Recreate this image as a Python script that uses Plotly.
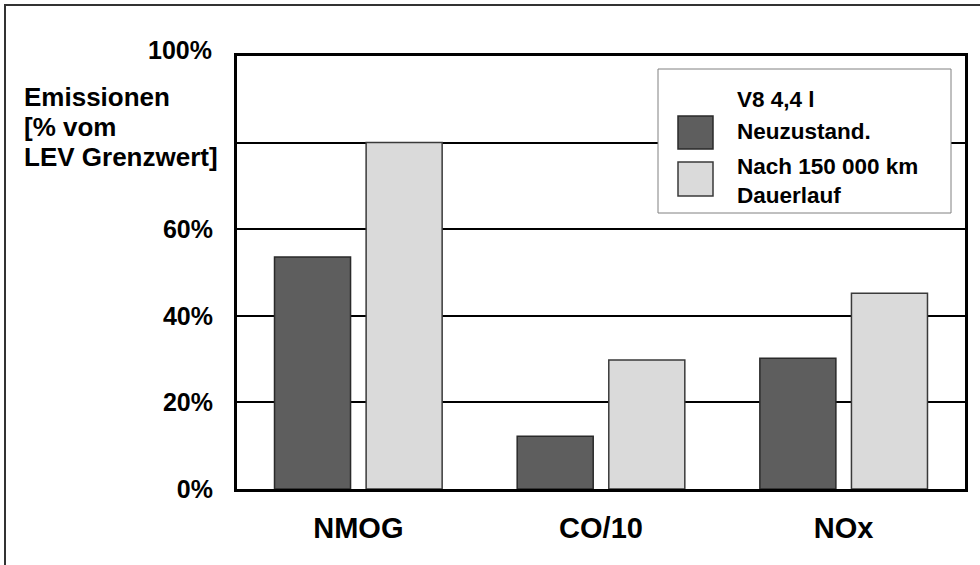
import plotly.graph_objects as go

categories = ["NMOG", "CO/10", "NOx"]
neu_values = [53.6, 12.2, 30.2]
dauer_values = [80.0, 29.8, 45.2]
tick_vals = [0, 20, 40, 60, 80, 100]
tick_text = ["0%", "20%", "40%", "60%", "", "100%"]
legend_title = "V8 4,4 l"
legend_labels = ["Neuzustand.", "Nach 150 000 km", "Dauerlauf"]
y_title_lines = ["Emissionen", "[% vom", "LEV Grenzwert]"]

W, H = 980, 565
L, R, T, B = 237, 15, 56, 76
PW, PH = W - L - R, H - T - B

def px(x):
    return (x - L) / PW

def py(y):
    return (H - B - y) / PH

FONT = "Liberation Sans, Arial, sans-serif"
DARK = "#5e5e5e"
LIGHT = "#dadada"

fig = go.Figure()
fig.add_trace(go.Bar(x=categories, y=neu_values, name=legend_labels[0],
                     marker=dict(color=DARK, line=dict(color="#2a2a2a", width=1.5))))
fig.add_trace(go.Bar(x=categories, y=dauer_values, name=legend_labels[1] + " " + legend_labels[2],
                     marker=dict(color=LIGHT, line=dict(color="#3a3a3a", width=1.5))))

# the top tick label sits slightly above its line in the original, so it is drawn as an annotation
axis_tick_text = [t if v != 100 else "" for v, t in zip(tick_vals, tick_text)]

fig.update_layout(
    width=W, height=H,
    margin=dict(l=L, r=R, t=T, b=B),
    paper_bgcolor="white", plot_bgcolor="white",
    barmode="group", bargap=0.245, bargroupgap=0.17,
    showlegend=False,
    font=dict(family=FONT, color="black", size=24, weight="bold"),
)
fig.update_xaxes(showline=True, linecolor="black", linewidth=3, mirror=True,
                 showgrid=False, ticks="", ticklabelstandoff=11,
                 tickfont=dict(size=29, family=FONT, weight="bold"))
fig.update_yaxes(range=[0, 100], tickvals=tick_vals, ticktext=axis_tick_text,
                 showline=True, linecolor="black", linewidth=3, mirror=True,
                 showgrid=True, gridcolor="black", gridwidth=2,
                 zeroline=False, ticks="", ticklabelstandoff=16,
                 tickfont=dict(size=25, family=FONT, weight="bold"))

fig.add_annotation(xref="paper", yref="y", x=px(214), y=100, yshift=6,
                   text=tick_text[tick_vals.index(100)], showarrow=False,
                   xanchor="right", yanchor="middle",
                   font=dict(size=25, family=FONT, color="black", weight="bold"))

shapes = []
# outer frame (top and left edges)
shapes.append(dict(type="line", xref="paper", yref="paper",
                   x0=px(4), x1=px(W), y0=py(5), y1=py(5),
                   line=dict(color="#333333", width=2)))
shapes.append(dict(type="line", xref="paper", yref="paper",
                   x0=px(5), x1=px(5), y0=py(4), y1=py(H),
                   line=dict(color="#333333", width=2)))
# legend box
shapes.append(dict(type="rect", xref="paper", yref="paper",
                   x0=px(658), x1=px(951), y0=py(213), y1=py(69),
                   fillcolor="white", line=dict(color="#808080", width=1), layer="above"))
shapes.append(dict(type="rect", xref="paper", yref="paper",
                   x0=px(678), x1=px(713), y0=py(149), y1=py(116),
                   fillcolor=DARK, line=dict(color="#2a2a2a", width=1.5), layer="above"))
shapes.append(dict(type="rect", xref="paper", yref="paper",
                   x0=px(678), x1=px(713), y0=py(196), y1=py(162),
                   fillcolor=LIGHT, line=dict(color="#3a3a3a", width=1.5), layer="above"))
fig.update_layout(shapes=shapes)

ann_font = dict(family=FONT, size=22.5, color="black", weight="bold")
for txt, yc in zip([legend_title] + legend_labels, [99, 131, 166, 195]):
    fig.add_annotation(xref="paper", yref="paper", x=px(735), y=py(yc), text=txt,
                       showarrow=False, xanchor="left", yanchor="middle", font=ann_font)

for txt, yc in zip(y_title_lines, [97, 127, 157]):
    fig.add_annotation(xref="paper", yref="paper", x=px(22), y=py(yc), text=txt,
                       showarrow=False, xanchor="left", yanchor="middle", align="left",
                       font=dict(family=FONT, size=26, color="black", weight="bold"))

fig.write_html("out.html")
